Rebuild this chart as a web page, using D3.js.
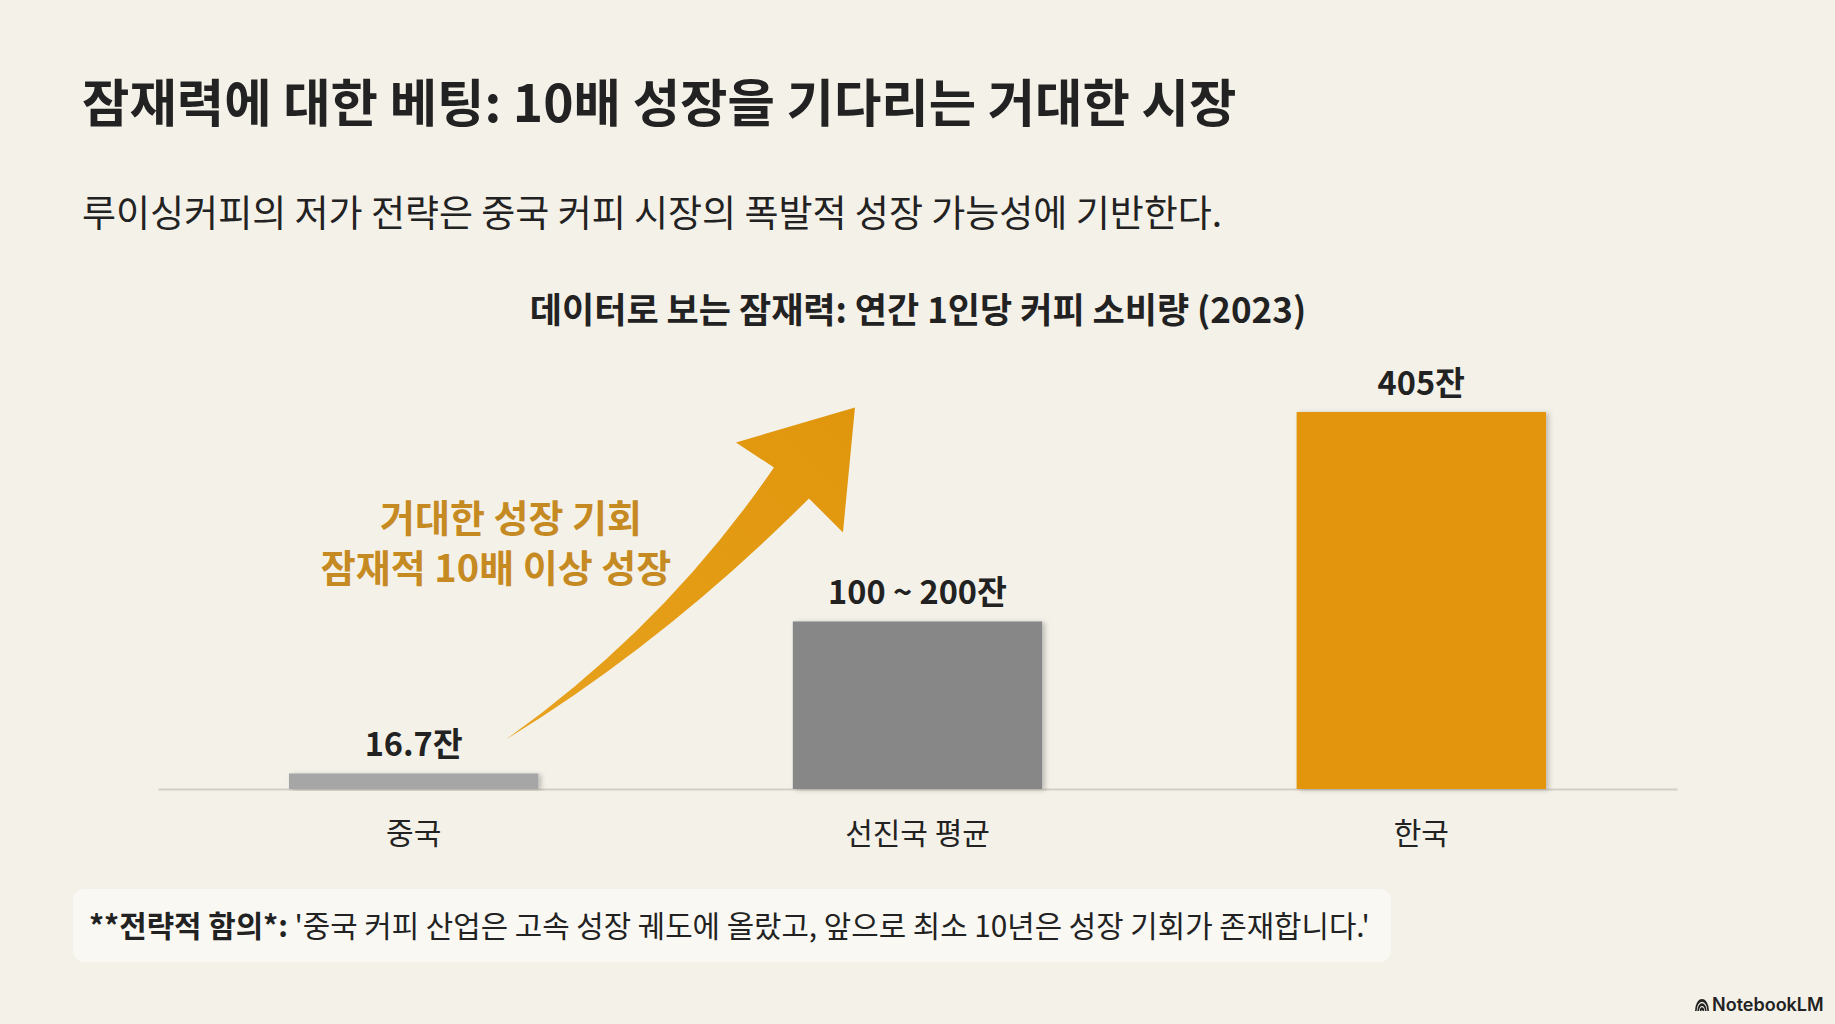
<!DOCTYPE html>
<html><head><meta charset="utf-8">
<script src="https://cdn.jsdelivr.net/npm/d3@7"></script>
<style>
html,body{margin:0;padding:0;background:#F4F1E9;}
svg{display:block;}
text{font-family:"Noto Sans CJK KR","Noto Sans",sans-serif;}
</style></head>
<body><div id="chart"></div>
<script>
const categories = ['중국', '선진국 평균', '한국'];
const values = [16.7, 180, 405];
const valueLabels = ['16.7잔', '100 ~ 200잔', '405잔'];
const barColors = ['#A6A6A6', '#878787', '#E3960A'];
const titleText = '잠재력에 대한 베팅: 10배 성장을 기다리는 거대한 시장';
const subtitleText = '루이싱커피의 저가 전략은 중국 커피 시장의 폭발적 성장 가능성에 기반한다.';
const chartTitleText = '데이터로 보는 잠재력: 연간 1인당 커피 소비량 (2023)';
const annotationLines = ['거대한 성장 기회', '잠재적 10배 이상 성장'];
const footerBold = '**전략적 함의*:';
const footerText = " '중국 커피 산업은 고속 성장 궤도에 올랐고, 앞으로 최소 10년은 성장 기회가 존재합니다.'";

const W = 1835, H = 1024;
const svg = d3.select('#chart').append('svg').attr('width', W).attr('height', H);
svg.append('rect').attr('width', W).attr('height', H).attr('fill', '#F4F1E9');

const defs = svg.append('defs');
const f = defs.append('filter').attr('id', 'shadow').attr('x', '-10%').attr('y', '-10%').attr('width', '130%').attr('height', '120%');
f.append('feDropShadow').attr('dx', 3).attr('dy', 1).attr('stdDeviation', 2.5).attr('flood-color', '#000').attr('flood-opacity', 0.22);
const g = defs.append('linearGradient').attr('id', 'arrowGrad').attr('x1', '0%').attr('y1', '100%').attr('x2', '100%').attr('y2', '0%');
g.append('stop').attr('offset', '0%').attr('stop-color', '#E8A21E');
g.append('stop').attr('offset', '100%').attr('stop-color', '#E0960C');

// Titles
svg.append('text').attr('x', 82).attr('y', 122).attr('font-size', 51.5).attr('font-weight', 700)
  .attr('fill', '#222').text(titleText);
svg.append('text').attr('x', 82).attr('y', 227).attr('font-size', 37).attr('font-weight', 400)
  .attr('fill', '#222').text(subtitleText);
svg.append('text').attr('x', 918).attr('y', 323).attr('font-size', 35).attr('font-weight', 700)
  .attr('text-anchor', 'middle').attr('fill', '#222').text(chartTitleText);

// Scales
const x = d3.scaleBand().domain(categories).range([158, 1677]).paddingInner(0.505).paddingOuter(0.26);
const y = d3.scaleLinear().domain([0, 405]).range([789, 412]);

// Baseline axis
const axis = d3.axisBottom(x).tickSize(0).tickPadding(0);
const axisG = svg.append('g').attr('transform', `translate(0,${y(0)})`).call(axis);
axisG.select('.domain').attr('stroke', '#D3CFC6').attr('stroke-width', 2);
axisG.selectAll('.tick text').attr('font-size', 30).attr('font-weight', 400).attr('fill', '#222')
  .attr('dy', null).attr('y', 55).style('font-family', '"Noto Sans CJK KR", sans-serif');

// Bars
const data = categories.map((c, i) => ({ c, v: values[i], label: valueLabels[i], color: barColors[i] }));
svg.append('g').selectAll('rect').data(data).join('rect')
  .attr('x', d => x(d.c)).attr('y', d => y(d.v))
  .attr('width', x.bandwidth()).attr('height', d => y(0) - y(d.v))
  .attr('fill', d => d.color).attr('filter', 'url(#shadow)');

// Value labels
svg.append('g').selectAll('text').data(data).join('text')
  .attr('x', d => x(d.c) + x.bandwidth() / 2).attr('y', d => y(d.v) - 17)
  .attr('text-anchor', 'middle').attr('font-size', 32.5).attr('font-weight', 700).attr('fill', '#222')
  .text(d => d.label);

// Growth arrow (anchored near the China label, pointing toward the higher bars)
const ax0 = x(categories[0]) + x.bandwidth() * 0.87; // tail x
const ay0 = y(values[0]) - 34;                         // tail y
const arrowPts = {
  tail: [0, 0], upperC: [160, -114], notchL: [268, -272], barbL: [230, -297],
  tip: [349, -332], barbR: [337, -207], notchR: [303, -241], lowerC: [161, -99]
};
const P = k => [ax0 + arrowPts[k][0], ay0 + arrowPts[k][1]];
const path = d3.path();
path.moveTo(...P('tail'));
path.quadraticCurveTo(...P('upperC'), ...P('notchL'));
path.lineTo(...P('barbL'));
path.lineTo(...P('tip'));
path.lineTo(...P('barbR'));
path.lineTo(...P('notchR'));
path.quadraticCurveTo(...P('lowerC'), ...P('tail'));
path.closePath();
svg.append('path').attr('d', path.toString()).attr('fill', 'url(#arrowGrad)');

// Annotation
svg.append('g').selectAll('text').data(annotationLines).join('text')
  .attr('x', (d, i) => [511, 496][i]).attr('y', (d, i) => 532 + i * 50)
  .attr('text-anchor', 'middle').attr('font-size', 38).attr('font-weight', 700).attr('fill', '#C68A22')
  .text(d => d);

// Footer box
svg.append('rect').attr('x', 73).attr('y', 889).attr('width', 1318).attr('height', 73).attr('rx', 12)
  .attr('fill', '#F9F8F3');
const ft = svg.append('text').attr('x', 89).attr('y', 937).attr('font-size', 29.8).attr('fill', '#222');
ft.append('tspan').attr('font-weight', 700).text(footerBold);
ft.append('tspan').attr('font-weight', 400).text(footerText);

// NotebookLM mark
const logo = svg.append('g').attr('transform', 'translate(1702,1011) scale(1,1.7)');
[7, 4.6, 2.2].forEach(r => {
  logo.append('path').attr('d', d3.arc()({ innerRadius: r - 1.6, outerRadius: r, startAngle: -Math.PI / 2, endAngle: Math.PI / 2 }))
    .attr('fill', '#222');
});
svg.append('text').attr('x', 1712).attr('y', 1011).attr('font-size', 18).attr('font-weight', 600)
  .style('font-family', 'Inter, "Noto Sans", sans-serif').attr('fill', '#222').text('NotebookLM');
</script></body></html>
